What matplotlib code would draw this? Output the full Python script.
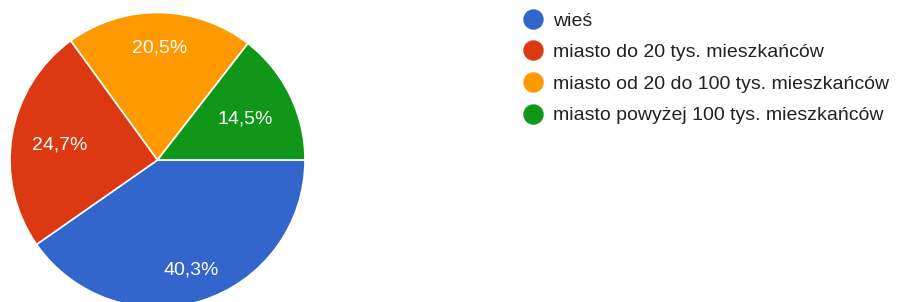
import numpy as np
from matplotlib import pyplot as plt
from matplotlib.lines import Line2D

plt.rcParams['font.family'] = ['Liberation Sans', 'DejaVu Sans']

labels = ['wieś', 'miasto do 20 tys. mieszkańców', 'miasto od 20 do 100 tys. mieszkańców',
          'miasto powyżej 100 tys. mieszkańców']
values = [40.3, 24.7, 20.5, 14.5]
colors = ['#3366cc', '#dc3912', '#ff9900', '#109618']

# label distance from centre (fraction of radius), google places them a bit unevenly
lab_dist = [0.77, 0.67, 0.77, 0.66]

fig = plt.figure(figsize=(9, 3.02), dpi=100)
ax = fig.add_axes([0, 0, 1, 1])

cx, cy, r = 157.5, 302 - 160, 147.5
wedges, _ = ax.pie(values, colors=colors, startangle=0, counterclock=False,
                   center=(cx, cy), radius=r,
                   wedgeprops=dict(edgecolor='white', linewidth=1.2))

for w, v, d in zip(wedges, values, lab_dist):
    ang = np.deg2rad((w.theta1 + w.theta2) / 2)
    ax.text(cx + d * r * np.cos(ang), cy + d * r * np.sin(ang) - 1.5,
            f'{v:.1f}%'.replace('.', ','), color='white', fontsize=14,
            ha='center', va='center')

ax.set_xlim(0, 900)
ax.set_ylim(0, 302)
ax.set_aspect('equal')
ax.axis('off')

handles = [Line2D([], [], marker='o', linestyle='', markersize=13.7, color=c) for c in colors]
ax.legend(handles, labels, loc='upper left', bbox_to_anchor=(523.5 / 900, 1 - 12 / 302),
          frameon=False, fontsize=14, handlelength=1.0, handletextpad=0.5,
          labelspacing=0.72, borderpad=0, borderaxespad=0, labelcolor='#222222')

plt.savefig('out.png', dpi=100)
